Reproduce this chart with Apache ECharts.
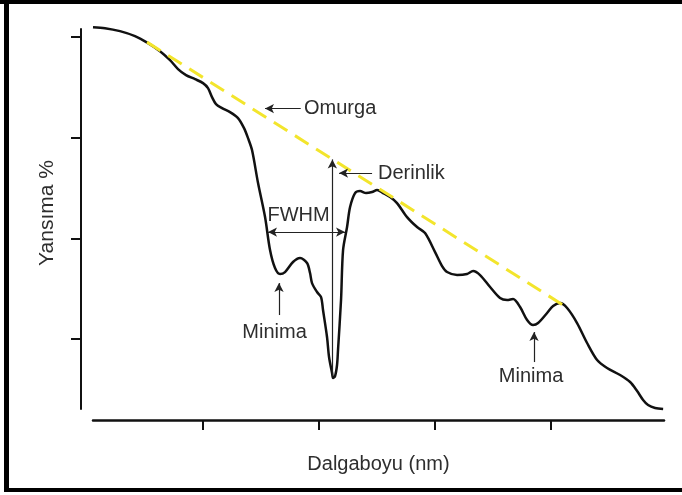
<!DOCTYPE html>
<html>
<head>
<meta charset="utf-8">
<script src="https://cdn.jsdelivr.net/npm/echarts@6/dist/echarts.min.js"></script>
<style>
html,body{margin:0;padding:0;background:#fff;}
#c{width:682px;height:495px;}
</style>
</head>
<body>
<div id="c"></div>
<script>
// Wavelength (arbitrary units) and reflectance (%)
const wavelength = [1.0, 3.07, 5.66, 8.25, 10.5, 12.57, 14.3, 15.68, 17.06, 18.62, 20.0, 20.86, 21.55, 22.24, 23.28, 24.66, 26.04, 27.08, 27.77, 28.46, 29.5, 30.71, 31.57, 32.43, 33.3, 34.16, 35.54, 36.75, 37.96, 38.48, 38.82, 39.69, 40.38, 40.72, 41.41, 41.76, 42.28, 42.45, 42.8, 43.14, 43.31, 43.83, 44.18, 44.87, 45.39, 46.25, 47.11, 48.15, 49.19, 50.05, 51.09, 52.3, 53.5, 55.23, 56.96, 58.34, 60.07, 61.28, 62.14, 63.87, 65.59, 66.63, 67.84, 69.57, 71.29, 72.5, 73.54, 74.75, 75.96, 76.99, 77.86, 79.41, 80.45, 81.66, 82.87, 84.59, 86.32, 88.05, 89.77, 92.02, 93.75, 94.96, 95.99, 96.85, 98.06, 99.45];
const reflectance = [81.97, 81.77, 81.17, 80.18, 78.79, 77.2, 75.41, 73.63, 72.43, 71.64, 70.85, 69.85, 68.07, 66.68, 65.88, 65.09, 63.9, 61.91, 59.92, 57.54, 50.99, 44.23, 37.68, 34.1, 32.91, 33.31, 35.3, 36.09, 35.1, 33.11, 31.12, 29.34, 28.34, 25.76, 20.4, 16.43, 13.25, 12.26, 12.65, 14.84, 17.82, 27.75, 37.68, 42.25, 46.22, 49.0, 49.4, 49.0, 49.2, 49.6, 49.0, 48.2, 47.01, 44.23, 42.25, 41.06, 37.28, 34.5, 33.31, 32.71, 32.91, 33.51, 32.71, 30.33, 28.15, 27.75, 27.95, 26.36, 23.78, 22.78, 23.18, 25.17, 26.56, 27.15, 26.16, 23.18, 19.21, 15.83, 14.24, 12.85, 11.46, 9.67, 7.89, 6.89, 6.3, 6.1];
// Continuum ("Omurga") line end points
const hullX = [10.33, 82.17];
const hullY = [78.99, 26.76];
// Axis ticks (no labels shown)
const xTicks = [20, 40, 60, 80];
const yTicks = [20, 40, 60, 80];
// Annotation arrows: [x1, y1, x2, y2] (arrow head at second point)
const arrowOmurga = [36.87, 65.78, 30.7, 65.78];
const arrowDerinlik = [49.19, 52.97, 43.49, 52.97];
const arrowDepth = [42.33, 12.6, 42.33, 55.69];
const arrowFWHM = [31.22, 41.25, 44.52, 41.25];
const arrowMinima1 = [33.12, 24.77, 33.12, 31.12];
const arrowMinima2 = [77.16, 15.43, 77.16, 21.39];
// Annotation texts: [text, x, y, align]
const notes = [
  ['Omurga', 37.44, 65.78, 'left'],
  ['Derinlik', 50.22, 52.97, 'left'],
  ['FWHM', 36.49, 44.63, 'center'],
  ['Minima', 32.35, 21.39, 'center'],
  ['Minima', 76.65, 12.65, 'center']
];

const FONT = "'Liberation Sans', Arial, Helvetica, sans-serif";
const TXT = '#2e2e2e';

const curve = wavelength.map((x, i) => [x, reflectance[i]]);
const hull = hullX.map((x, i) => [x, hullY[i]]);

function arrow(a, both) {
  return [
    { coord: [a[0], a[1]], symbol: both ? 'arrow' : 'none' },
    { coord: [a[2], a[3]], symbol: 'arrow' }
  ];
}

const chart = echarts.init(document.getElementById('c'), null, { renderer: 'canvas' });
chart.setOption({
  animation: false,
  backgroundColor: '#fff',
  textStyle: { fontFamily: FONT },
  grid: { left: 93, right: 18, top: 29, bottom: 86 },
  xAxis: {
    type: 'value', min: 1, max: 99.6,
    offset: 11,
    name: 'Dalgaboyu (nm)', nameLocation: 'middle', nameGap: 34,
    nameTextStyle: { fontFamily: FONT, fontSize: 20, color: TXT },
    axisLine: { show: true, onZero: false, lineStyle: { color: '#111', width: 2.5 } },
    axisTick: { show: true, inside: false, length: 10, customValues: xTicks, lineStyle: { color: '#111', width: 2 } },
    axisLabel: { show: false, customValues: xTicks },
    splitLine: { show: false }
  },
  yAxis: {
    type: 'value', min: 6.1, max: 81.6,
    offset: 12,
    name: 'Yansıma %', nameLocation: 'middle', nameGap: 23, nameRotate: 90,
    nameTextStyle: { fontFamily: FONT, fontSize: 21, color: TXT, padding: [0, 0, 0, 12] },
    axisLine: { show: true, onZero: false, lineStyle: { color: '#111', width: 2 } },
    axisTick: { show: true, inside: false, length: 10, customValues: yTicks, lineStyle: { color: '#111', width: 2 } },
    axisLabel: { show: false, customValues: yTicks },
    splitLine: { show: false }
  },
  series: [
    {
      name: 'Yansıma', type: 'line', data: curve, smooth: 0.3, showSymbol: false, clip: false,
      lineStyle: { color: '#111', width: 2.5 },
      markLine: {
        silent: true, symbolSize: [7, 9], precision: 4,
        label: { show: false },
        lineStyle: { color: '#222', width: 1.2, type: 'solid' },
        data: [
          arrow(arrowOmurga), arrow(arrowDerinlik), arrow(arrowDepth),
          arrow(arrowFWHM, true), arrow(arrowMinima1), arrow(arrowMinima2)
        ]
      },
      markPoint: {
        silent: true, symbol: 'circle', symbolSize: 0,
        itemStyle: { color: 'transparent' },
        data: notes.map(n => ({
          coord: [n[1], n[2]],
          label: {
            show: true, formatter: n[0],
            position: n[3] === 'left' ? 'right' : 'inside', distance: 0,
            fontFamily: FONT, fontSize: 20, color: TXT
          }
        }))
      }
    },
    {
      name: 'Omurga', type: 'line', data: hull, showSymbol: false, z: 3,
      lineStyle: { color: '#f3e52c', width: 3, type: [16, 9] }
    }
  ],
  graphic: [
    { type: 'rect', shape: { x: 0, y: 0, width: 682, height: 4 }, style: { fill: '#000' }, silent: true },
    { type: 'rect', shape: { x: 4, y: 0, width: 5, height: 492 }, style: { fill: '#000' }, silent: true },
    { type: 'rect', shape: { x: 4, y: 488, width: 678, height: 4 }, style: { fill: '#000' }, silent: true }
  ]
});
</script>
</body>
</html>
